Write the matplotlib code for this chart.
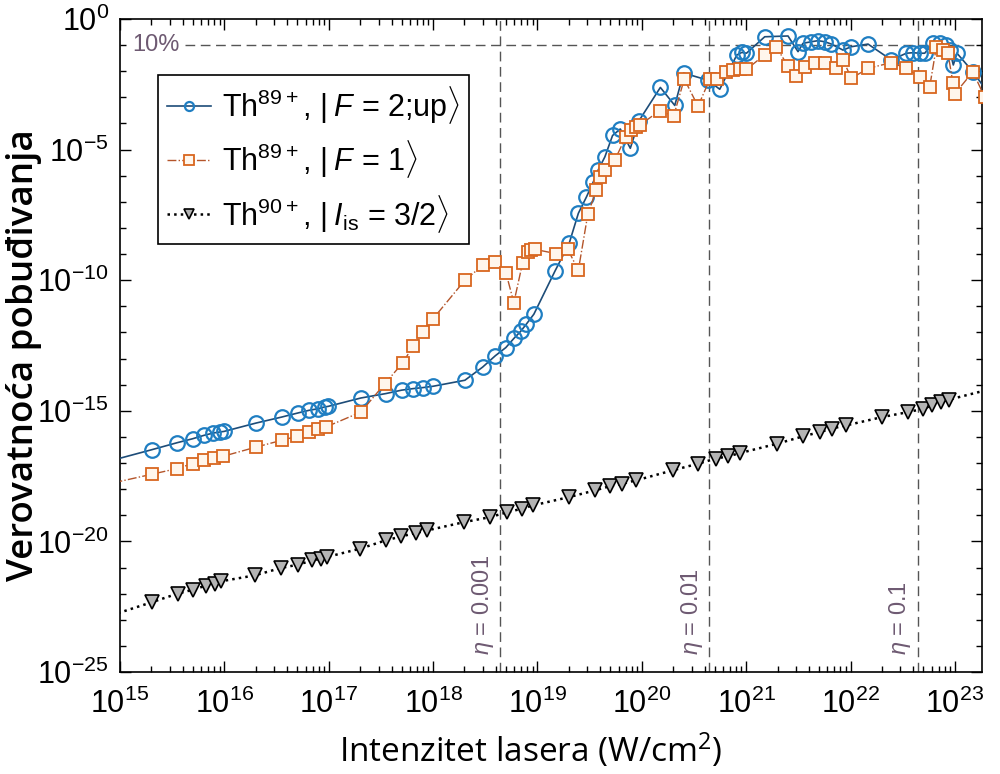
import numpy as np
import matplotlib
matplotlib.use('Agg')
import matplotlib.pyplot as plt
import matplotlib.transforms as mtransforms
from matplotlib.ticker import FixedLocator, NullFormatter

plt.rcParams['font.family'] = ['Liberation Sans', 'DejaVu Sans']
plt.rcParams['mathtext.fontset'] = 'custom'
plt.rcParams['mathtext.rm'] = 'Liberation Sans'
plt.rcParams['mathtext.it'] = 'Liberation Sans:italic'
plt.rcParams['mathtext.bf'] = 'Liberation Sans:bold'
plt.rcParams['axes.unicode_minus'] = False

# ---------------- data (log10 of intensity in W/cm^2, log10 of probability) -------------
logI_up = [14.80, 15.304, 15.549, 15.696, 15.805, 15.894, 15.958, 15.996,
           16.303, 16.549, 16.708, 16.813, 16.899, 16.964, 16.995,
           17.308, 17.548, 17.698, 17.809, 17.905, 18.001,
           18.305, 18.474, 18.597, 18.697, 18.774, 18.841, 18.892, 18.966,
           19.167, 19.304, 19.392, 19.470, 19.536, 19.581, 19.646, 19.720, 19.794, 19.890, 19.974,
           20.178, 20.316, 20.400, 20.632, 20.747, 20.910, 20.958, 21.003,
           21.178, 21.401, 21.497, 21.545, 21.625, 21.689, 21.753, 21.817, 21.928, 22.009,
           22.168, 22.392, 22.535, 22.599, 22.663, 22.711, 22.790, 22.854, 22.918, 22.950,
           22.985, 23.020, 23.173, 23.35]
logP_up = [-17.03, -16.49, -16.22, -16.07, -15.94, -15.85, -15.81, -15.79,
           -15.47, -15.24, -15.08, -14.98, -14.92, -14.85, -14.83,
           -14.51, -14.34, -14.21, -14.15, -14.11, -14.06,
           -13.83, -13.33, -12.89, -12.58, -12.23, -11.95, -11.69, -11.30,
           -9.66, -8.59, -7.44, -6.81, -6.23, -5.79, -5.28, -4.46, -4.21, -4.95, -3.89,
           -2.62, -3.31, -2.07, -2.34, -2.69, -1.38, -1.28, -1.31,
           -0.68, -0.65, -1.25, -0.93, -0.87, -0.83, -0.87, -0.96, -1.19, -1.06,
           -0.96, -1.57, -1.31, -1.29, -1.31, -1.31, -0.93, -0.91, -1.00, -1.19,
           -1.76, -1.31, -2.02, -3.00]

logI_f1 = [14.80, 15.304, 15.549, 15.696, 15.805, 15.900, 15.989,
           16.303, 16.549, 16.693, 16.813, 16.899, 16.973,
           17.308, 17.538, 17.708, 17.809, 17.905, 18.001,
           18.305, 18.477, 18.592, 18.700, 18.774, 18.857, 18.911, 18.943, 18.975,
           19.176, 19.291, 19.392, 19.483, 19.564, 19.598, 19.646, 19.741, 19.847, 19.901, 19.949, 19.981,
           20.172, 20.305, 20.407, 20.539, 20.651, 20.716, 20.811, 20.875, 20.939, 21.003,
           21.178, 21.288, 21.401, 21.482, 21.561, 21.657, 21.753, 21.865, 21.928, 22.009,
           22.168, 22.392, 22.535, 22.663, 22.759, 22.823, 22.886, 22.934, 22.982, 22.998,
           23.173, 23.285]
logP_f1 = [-17.88, -17.43, -17.21, -17.02, -16.90, -16.79, -16.74,
           -16.39, -16.13, -15.98, -15.81, -15.71, -15.62,
           -15.05, -13.96, -13.17, -12.52, -12.00, -11.47,
           -10.00, -9.43, -9.30, -9.74, -10.86, -9.35, -8.92, -8.85, -8.82,
           -8.98, -8.82, -9.62, -7.47, -6.55, -6.04, -5.79, -5.40, -4.51, -4.25, -4.13, -4.06,
           -3.51, -3.72, -2.30, -3.34, -2.31, -2.31, -2.02, -1.95, -1.93, -1.93,
           -1.37, -1.07, -1.80, -2.18, -1.83, -1.67, -1.70, -1.89, -1.57, -2.27,
           -1.89, -1.67, -1.89, -2.21, -2.59, -1.06, -1.19, -1.31, -2.46, -2.87,
           -2.02, -2.99]

logI_is = [14.80, 15.304, 15.551, 15.699, 15.826, 15.908, 15.964,
           16.293, 16.540, 16.705, 16.843, 16.925, 16.981,
           17.299, 17.547, 17.695, 17.832, 17.943,
           18.300, 18.548, 18.713, 18.850, 18.960,
           19.307, 19.548, 19.692, 19.812, 19.949,
           20.296, 20.543, 20.709, 20.830, 20.940,
           21.297, 21.544, 21.710, 21.819, 21.957,
           22.303, 22.551, 22.699, 22.782, 22.864, 22.946, 23.40]
logP_is = [-22.98, -22.33, -22.00, -21.85, -21.69, -21.62, -21.53,
           -21.30, -21.02, -20.89, -20.73, -20.66, -20.60,
           -20.28, -19.96, -19.81, -19.68, -19.58,
           -19.26, -19.07, -18.88, -18.75, -18.62,
           -18.30, -18.05, -17.89, -17.79, -17.66,
           -17.28, -17.02, -16.83, -16.74, -16.62,
           -16.26, -15.98, -15.81, -15.68, -15.56,
           -15.24, -15.05, -14.92, -14.79, -14.66, -14.57, -14.11]

eta_intensity = [4.4e18, 4.4e20, 4.4e22]
eta_labels = [r'$\eta$ = 0.001', r'$\eta$ = 0.01', r'$\eta$ = 0.1']
level_10pct = 0.1

x_decades = np.arange(15, 24)      # tick decades shown on the x axis
y_decades = np.arange(-25, 1)      # tick decades on the y axis

labels = [r'Th$^{89+}$, $|\;\mathit{F}$ = 2;up$\rangle$',
          r'Th$^{89+}$, $|\;\mathit{F}$ = 1$\rangle$',
          r'Th$^{90+}$, $|\;\mathit{I}_{\mathrm{is}}$ = 3/2$\rangle$']

# ---------------- figure ----------------
fig = plt.figure(figsize=(10.0, 7.74), dpi=100)
ax = fig.add_axes([0.120, 1 - 672 / 774, 0.862, (672 - 19) / 774])

ax.plot(10 ** np.array(logI_up), 10 ** np.array(logP_up), '-', color='#1d4c78', lw=1.2,
        marker='o', ms=10.5, mfc='none', mec='#1f7ec2', mew=1.6, label=labels[0], zorder=3)
ax.plot(10 ** np.array(logI_f1), 10 ** np.array(logP_f1), '-.', color='#b4552a', lw=1.0,
        marker='s', ms=8, mfc='#fff6ec', mec='#d9661f', mew=1.3, label=labels[1], zorder=4)
ax.plot(10 ** np.array(logI_is), 10 ** np.array(logP_is), ':', color='black', lw=1.8,
        marker='v', ms=10.5, mfc='#b4b4b4', mec='black', mew=1.2, label=labels[2], zorder=3)

ax.set_xscale('log')
ax.set_yscale('log')
ax.set_xlim(1e15, 10 ** 23.26)
ax.set_ylim(1e-25, 1e0)

# reference lines
dash = (0, (7, 4))
tr = mtransforms.blended_transform_factory(ax.transData, ax.transAxes)
for xv, lab in zip(eta_intensity, eta_labels):
    ax.axvline(xv, color='#555555', lw=1.0, ls=dash, zorder=1)
    ax.annotate(lab, xy=(xv, 0.026), xycoords=tr, xytext=(-3, 0), textcoords='offset points',
                rotation=90, ha='right', va='bottom', fontsize=17, color='#6e5a72')
ax.axhline(level_10pct, xmin=0.075, xmax=1.0, color='#555555', lw=1.0, ls=dash, zorder=1)
trh = mtransforms.blended_transform_factory(ax.transAxes, ax.transData)
ax.text(0.014, level_10pct, '10%', transform=trh, ha='left', va='center', fontsize=17,
        color='#6e5a72')

# ticks (only inside the visible range)
xmaj = 10.0 ** x_decades
xmin_t = np.array([m * 10.0 ** d for d in x_decades for m in range(2, 10)])
xmin_t = xmin_t[xmin_t <= 10 ** 23.26]
ax.xaxis.set_major_locator(FixedLocator(xmaj))
ax.xaxis.set_minor_locator(FixedLocator(xmin_t))
ax.xaxis.set_minor_formatter(NullFormatter())
ax.yaxis.set_major_locator(FixedLocator(10.0 ** y_decades[::5]))
ax.yaxis.set_minor_locator(FixedLocator(10.0 ** y_decades))
ax.yaxis.set_minor_formatter(NullFormatter())
ax.tick_params(which='both', direction='in', top=True, right=True, width=1.0)
ax.tick_params(which='major', length=8, labelsize=22)
ax.tick_params(which='minor', length=4)
ax.tick_params(axis='x', which='major', pad=12)
ax.tick_params(axis='y', which='major', pad=8)
for s in ax.spines.values():
    s.set_linewidth(1.2)

ax.set_xlabel(r'Intenzitet lasera $\mathdefault{(W/cm^2)}$', fontsize=24,
              family=['Open Sans', 'DejaVu Sans'])
ax.xaxis.set_label_coords(0.477, -0.090)
ax.set_ylabel('Verovatnoća pobuđivanja', fontsize=26.5, fontweight='semibold',
              family=['Open Sans', 'DejaVu Sans'])
ax.yaxis.set_label_coords(-0.091, 0.486)

leg = ax.legend(loc='upper left', bbox_to_anchor=((158 - 120) / 862, 1 - (75 - 19) / 653),
                fontsize=22, frameon=True, fancybox=False, edgecolor='black', framealpha=1,
                handlelength=1.45, handletextpad=0.35, borderpad=0.3, labelspacing=0.4,
                borderaxespad=0)
leg.get_frame().set_linewidth(1.2)
for h in leg.legend_handles:
    h.set_markersize(6.5)

fig.savefig('out.png', dpi=100)
